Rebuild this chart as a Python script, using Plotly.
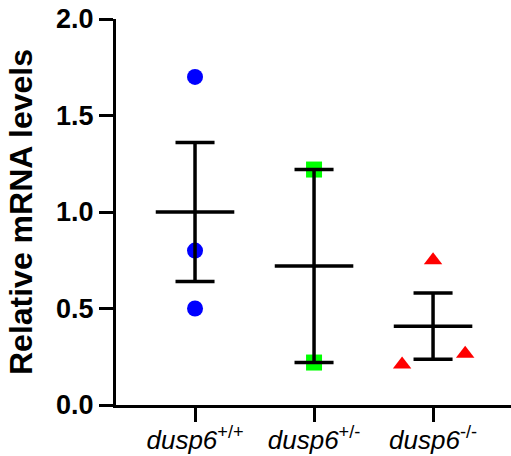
import numpy as np
import plotly.graph_objects as go

# Genotypes and measured relative mRNA levels
gene = "dusp6"
genotypes = ["+/+", "+/-", "-/-"]
wt_values = [1.70, 0.80, 0.50]
het_values = [1.22, 0.22]
ko_values = [0.75, 0.21, 0.265]
# horizontal scatter offsets of the points within each column
wt_offsets = [0.0, 0.0, 0.0]
het_offsets = [0.0, 0.0]
ko_offsets = [0.0, -0.26, 0.27]
y_ticks = [0.0, 0.5, 1.0, 1.5, 2.0]

series = [
    (wt_values, wt_offsets, "circle", "#0000FF"),
    (het_values, het_offsets, "square", "#00FF00"),
    (ko_values, ko_offsets, "triangle-up", "#FF0000"),
]

FONT = "Liberation Sans, Arial, sans-serif"
MEAN_HALF = 0.33
CAP_HALF = 0.164

fig = go.Figure()

# individual data points
for i, (vals, offs, symbol, color) in enumerate(series):
    fig.add_trace(go.Scatter(
        x=[i + o for o in offs], y=vals, mode="markers",
        marker=dict(symbol=symbol, size=16, color=color, line=dict(width=0)),
        showlegend=False, hoverinfo="skip",
    ))

# mean line with SEM error bar for every genotype
lx, ly = [], []
for i, (vals, _, _, _) in enumerate(series):
    v = np.asarray(vals, dtype=float)
    m = v.mean()
    sem = v.std(ddof=1) / np.sqrt(len(v))
    lo, hi = m - sem, m + sem
    lx += [i - MEAN_HALF, i + MEAN_HALF, None]
    ly += [m, m, None]
    lx += [i, i, None]
    ly += [lo, hi, None]
    lx += [i - CAP_HALF, i + CAP_HALF, None]
    ly += [hi, hi, None]
    lx += [i - CAP_HALF, i + CAP_HALF, None]
    ly += [lo, lo, None]

fig.add_trace(go.Scatter(
    x=lx, y=ly, mode="lines", line=dict(color="black", width=3.5),
    showlegend=False, hoverinfo="skip",
))

tick_text = [f"<i>{gene}</i><sup>{g}</sup>" for g in genotypes]

fig.update_layout(
    width=511, height=456,
    margin=dict(l=116, r=0, t=19, b=51),
    paper_bgcolor="white", plot_bgcolor="white",
    font=dict(family=FONT, color="black"),
    xaxis=dict(
        range=[-0.664, 2.655], automargin=False,
        tickmode="array", tickvals=list(range(len(genotypes))), ticktext=tick_text,
        tickfont=dict(family=FONT, size=26, color="black"),
        ticklabelstandoff=-4,
        ticks="outside", ticklen=14, tickwidth=3, tickcolor="black",
        showline=True, linewidth=3, linecolor="black",
        showgrid=False, zeroline=False,
    ),
    yaxis=dict(
        range=[0, 2], automargin=False,
        tickmode="array", tickvals=y_ticks,
        ticktext=[f"{t:.1f}" for t in y_ticks],
        tickfont=dict(family=FONT, size=27, color="black", weight="bold"),
        ticks="outside", ticklen=14, tickwidth=3, tickcolor="black",
        showline=True, linewidth=3, linecolor="black",
        showgrid=False, zeroline=False,
        title=dict(text="Relative mRNA levels",
                   font=dict(family=FONT, size=32, color="black", weight="bold"),
                   standoff=14),
    ),
)

fig.write_html("out.html")
